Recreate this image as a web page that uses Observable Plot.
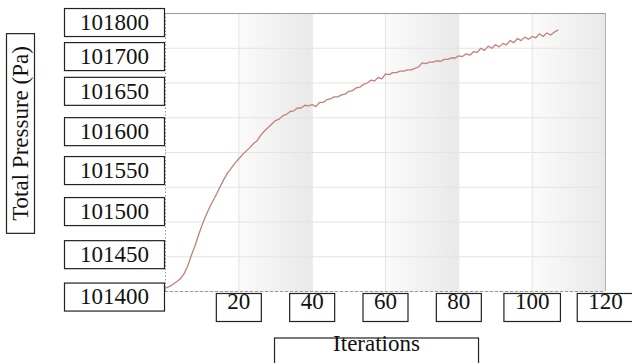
<!DOCTYPE html>
<html><head><meta charset="utf-8">
<script src="https://cdn.jsdelivr.net/npm/d3@7"></script>
<script src="https://cdn.jsdelivr.net/npm/@observablehq/plot@0.6"></script>
<style>html,body{margin:0;padding:0;background:#fff;overflow:hidden}</style>
</head><body><div id="chart"></div>
<script>
// Total pressure per iteration (iteration = index, 0..107)
const pressure = [
101405,101407,101410,101414,101418,101425,101436,101451,101465,101481,
101496,101509,101521,101531,101541,101552,101562,101571,101578,101585,
101591,101597,101602,101607,101613,101617,101625,101631,101636,101641,
101646,101648,101653,101655,101659,101660,101664,101664,101668,101667,
101669,101666,101672,101672,101676,101677,101680,101680,101683,101684,
101688,101689,101693,101694,101698,101700,101704,101703,101708,101706,
101713,101712,101715,101715,101717,101717,101719,101719,101721,101723,
101729,101728,101730,101730,101732,101731,101734,101734,101736,101736,
101739,101738,101742,101740,101745,101744,101750,101747,101753,101750,
101755,101752,101757,101755,101761,101758,101764,101761,101766,101763,
101767,101765,101771,101767,101772,101769,101773,101776
];
// boxed y labels as printed, and the pressure level where each box sits
const yTickLabels = ["101800","101700","101650","101600","101550","101500","101450","101400"];
const yTickLabelAt = [101787,101738,101688,101630,101574,101515,101453,101392];
const xTickValues = [20,40,60,80,100,120];
const gridXValues = [20,40,60,80,100];
const gridYValues = [101400,101450,101500,101550,101600,101650,101700,101750,101800];
const shadedBandStart = [20,60,100];
const shadedBandEnd = [40,80,120];
const xTitle = "Iterations";
const yTitle = "Total Pressure (Pa)";

const data = pressure.map((p,i)=>({iteration:i, pressure:p}));
const bands = shadedBandStart.map((s,i)=>({x1:s, x2:shadedBandEnd[i]}));
const font = "Liberation Serif, Tinos, Times New Roman, DejaVu Serif, Noto Serif, serif";
const fs = 23;
const tx = {textAnchor:"middle", fontSize:fs, fontFamily:font, fill:"#111"};

const svg = Plot.plot({
  width:632, height:363,
  marginLeft:165, marginRight:27, marginTop:13, marginBottom:72,
  x:{domain:[0,120], axis:null},
  y:{domain:[101400,101800], axis:null},
  style:{fontFamily:font, background:"#fff", overflow:"visible"},
  marks:[
    Plot.rect(bands, {x1:"x1", x2:"x2", fill:"url(#bandGrad)"}),
    Plot.ruleX(gridXValues, {stroke:"#e4e4e4"}),
    Plot.ruleY(gridYValues, {stroke:"#e4e4e4"}),
    Plot.ruleY([101800], {stroke:"#9a9a9a"}),
    Plot.ruleX([120], {stroke:"#b0b0b0"}),
    Plot.ruleX([0], {stroke:"#999", strokeDasharray:"1.5,2"}),
    Plot.ruleY([101400], {stroke:"#999", strokeDasharray:"3,2"}),
    Plot.line(data, {x:"iteration", y:"pressure", stroke:"#c4807c", strokeWidth:1.3}),
    Plot.text(yTickLabels, {...tx, y:(d,i)=>yTickLabelAt[i], text:d=>d, frameAnchor:"left", dx:-51,
      ariaDescription:"ylabels"}),
    Plot.text(xTickValues, {...tx, x:d=>d, text:d=>String(d), frameAnchor:"bottom", dy:17,
      ariaDescription:"xlabels"}),
    Plot.text([yTitle], {...tx, text:d=>d, frameAnchor:"left", dx:-145, dy:-19, rotate:-90,
      ariaDescription:"ytitle"}),
    Plot.text([xTitle], {...tx, text:d=>d, frameAnchor:"bottom", dx:-9, dy:59,
      ariaDescription:"xtitle"})
  ]
});
document.getElementById("chart").appendChild(svg);

const NS = "http://www.w3.org/2000/svg";
const defs = document.createElementNS(NS, "defs");
defs.innerHTML = '<linearGradient id="bandGrad" x1="0" x2="1" y1="0" y2="0"><stop offset="0" stop-color="#fbfbfb"/><stop offset="1" stop-color="#e9e9e9"/></linearGradient>';
svg.insertBefore(defs, svg.firstChild);

function boxes(label, fn){
  svg.querySelectorAll(`g[aria-description="${label}"] text`).forEach(t=>{
    const bb = t.getBBox();
    const r = document.createElementNS(NS, "rect");
    const [x,y,w,h] = fn(bb);
    r.setAttribute("x", x); r.setAttribute("y", y);
    r.setAttribute("width", w); r.setAttribute("height", h);
    r.setAttribute("fill", "#fff"); r.setAttribute("stroke", "#222"); r.setAttribute("stroke-width", 1.2);
    const tr = t.getAttribute("transform");
    if (tr) r.setAttribute("transform", tr);
    t.parentNode.insertBefore(r, t);
  });
}
boxes("ylabels", bb=>[bb.x + bb.width/2 - 50, -14, 100, 28]);
boxes("xlabels", bb=>[bb.x - 11, -15, bb.width + 22, 28]);
boxes("ytitle", bb=>[bb.x - 12.5, -14, bb.width + 25, 28]);
boxes("xtitle", bb=>[bb.x + bb.width/2 - 102, -12.5, 204, 40]);
</script>
</body></html>
